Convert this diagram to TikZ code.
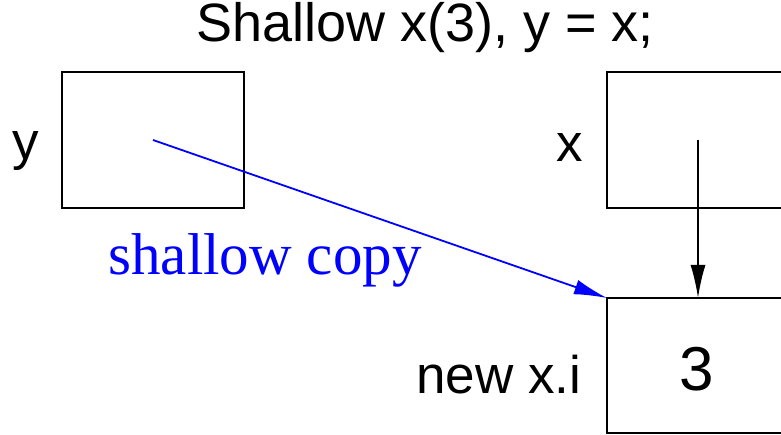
\documentclass[tikz,border=0pt]{standalone}
\usepackage{fontspec}
\setmainfont{Liberation Sans}
\newfontfamily\serifface{Liberation Serif}
\usetikzlibrary{arrows.meta}
\tikzset{
  x=1pt, y=-1pt,
  membox/.style={draw, line width=2.4pt, minimum width=182pt, minimum height=136pt, inner sep=0pt, outer sep=0pt},
  lbl/.style={anchor=base, inner sep=0pt, font=\fontsize{53}{60}\selectfont},
  ptr/.style={line width=1.8pt, -{Latex[length=33pt,width=15pt]}},
}
\begin{document}
\begin{tikzpicture}
\useasboundingbox (0,0) rectangle (781,435);
\clip (0,0) rectangle (781,435);
\node[membox] (ybox) at (153,140) {};
\node[membox] (xbox) at (698,140) {};
\node[membox, minimum height=135pt] (newbox) at (698,365.5) {};
\node[lbl, font=\fontsize{54}{60}\selectfont] (title) at (425,42) {Shallow x(3), y = x;};
\node[lbl] (ylbl) at (25.5,160) {y};
\node[lbl] (xlbl) at (570,162) {x};
\node[lbl] (newlbl) at (499,393) {new x.i};
\node[lbl, font=\fontsize{62}{70}\selectfont] (three) at (697,390) {3};
\node[lbl, text=blue, font=\serifface\fontsize{59}{66}\selectfont] (copylbl) at (265,275) {shallow copy};
\draw[ptr, blue] (ybox.center) -- (newbox.north west);
\draw[ptr] (xbox.center) -- (newbox.north);
\end{tikzpicture}
\end{document}
